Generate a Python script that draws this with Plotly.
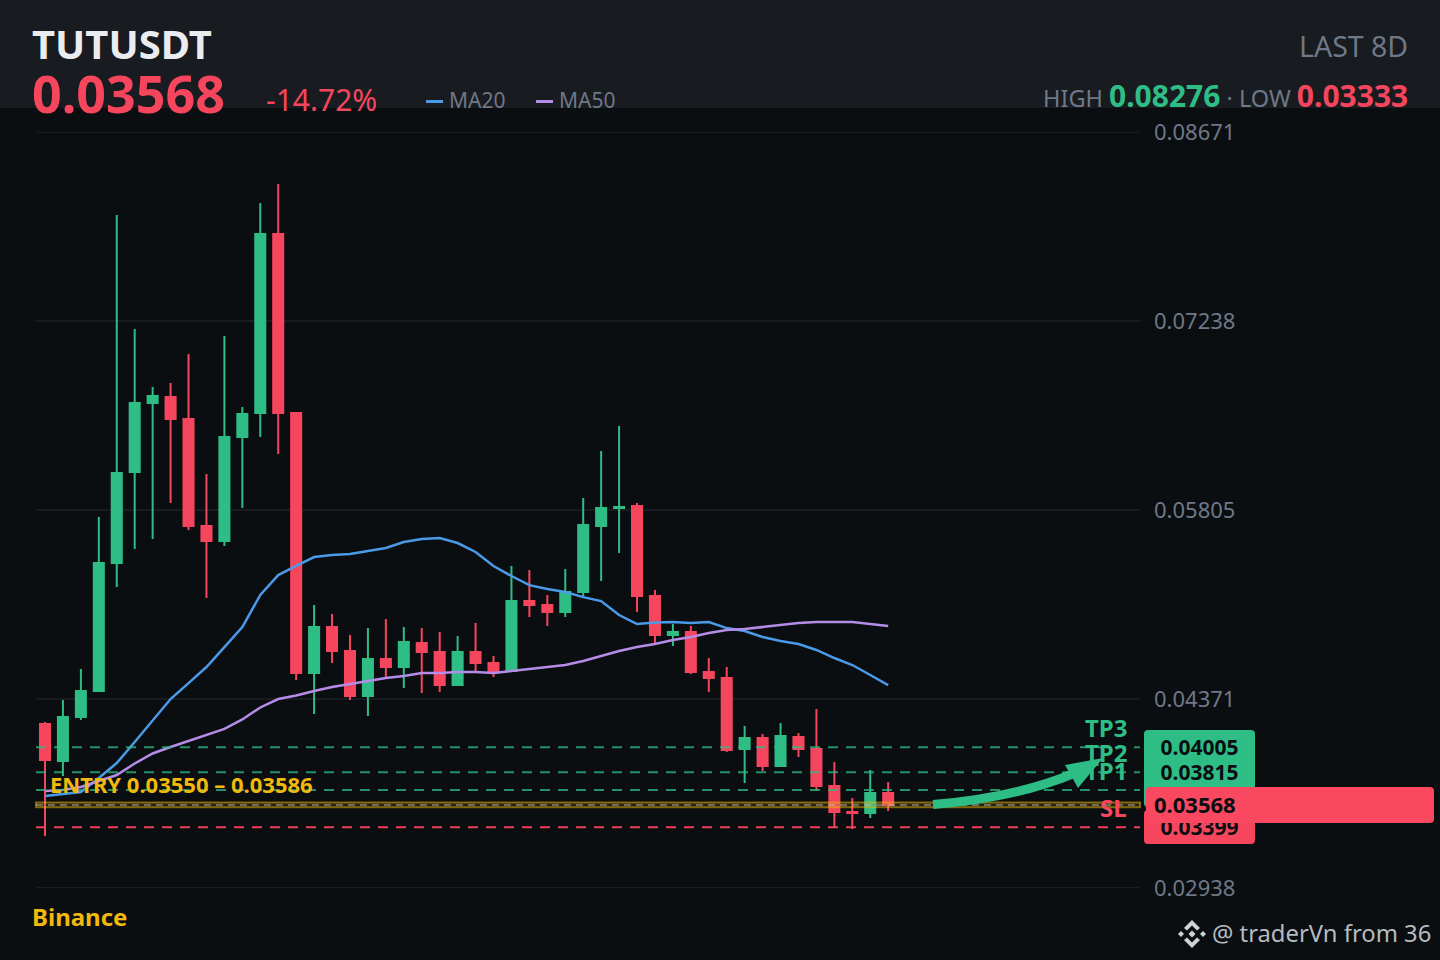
import plotly.graph_objects as go

W, H = 1440, 960

# candles
candle_x = list(range(48))
opens = [0.04181, 0.03901, 0.04235, 0.04432, 0.05402, 0.06092, 0.06616, 0.06661, 0.06494, 0.05683, 0.05569, 0.06358,
         0.06540, 0.07897, 0.06540, 0.04568, 0.04917, 0.04735, 0.04394, 0.04674, 0.04614, 0.04796, 0.04727, 0.04477,
         0.04727, 0.04644, 0.04583, 0.05114, 0.05084, 0.05031, 0.05182, 0.05683, 0.05819, 0.05835, 0.05152, 0.04856,
         0.04879, 0.04576, 0.04530, 0.03992, 0.04075, 0.03863, 0.04083, 0.03992, 0.03711, 0.03514, 0.03507, 0.03658]
highs = [0.04197, 0.04363, 0.04598, 0.05751, 0.08041, 0.07177, 0.06737, 0.06767, 0.06987, 0.06077, 0.07124, 0.06585,
         0.08132, 0.08276, 0.06540, 0.05084, 0.05016, 0.04856, 0.04909, 0.04978, 0.04917, 0.04909, 0.04879, 0.04849,
         0.04947, 0.04697, 0.05380, 0.05349, 0.05160, 0.05357, 0.05895, 0.06252, 0.06441, 0.05857, 0.05198, 0.04940,
         0.04925, 0.04682, 0.04614, 0.04166, 0.04106, 0.04189, 0.04113, 0.04295, 0.03893, 0.03620, 0.03833, 0.03742]
lows = [0.03332, 0.03787, 0.04212, 0.04424, 0.05220, 0.05508, 0.05584, 0.05857, 0.05653, 0.05137, 0.05531, 0.05819,
        0.06358, 0.06229, 0.04515, 0.04257, 0.04644, 0.04363, 0.04242, 0.04530, 0.04454, 0.04416, 0.04424, 0.04477,
        0.04576, 0.04538, 0.04576, 0.04993, 0.04925, 0.04993, 0.05152, 0.05266, 0.05478, 0.05031, 0.04796, 0.04773,
        0.04561, 0.04424, 0.03969, 0.03734, 0.03825, 0.03855, 0.03931, 0.03673, 0.03393, 0.03385, 0.03469, 0.03522]
closes = [0.03908, 0.04235, 0.04432, 0.05402, 0.06085, 0.06616, 0.06669, 0.06494, 0.05683, 0.05569, 0.06358, 0.06532,
          0.07897, 0.06540, 0.04568, 0.04917, 0.04735, 0.04394, 0.04674, 0.04614, 0.04803, 0.04727, 0.04477, 0.04727,
          0.04644, 0.04576, 0.05114, 0.05084, 0.05031, 0.05182, 0.05690, 0.05819, 0.05827, 0.05152, 0.04856, 0.04879,
          0.04576, 0.04530, 0.03984, 0.04075, 0.03863, 0.04090, 0.03992, 0.03711, 0.03514, 0.03507, 0.03658, 0.03568]
ma20 = [0.03635, 0.03651, 0.03666, 0.03772, 0.03886, 0.04045, 0.04212, 0.04371, 0.04492, 0.04614, 0.04765, 0.04917,
        0.05160, 0.05311, 0.05380, 0.05448, 0.05463, 0.05471, 0.05493, 0.05516, 0.05562, 0.05584, 0.05592, 0.05554,
        0.05486, 0.05380, 0.05304, 0.05235, 0.05205, 0.05182, 0.05144, 0.05114, 0.05008, 0.04940, 0.04951, 0.04955,
        0.04947, 0.04955, 0.04909, 0.04887, 0.04841, 0.04811, 0.04788, 0.04743, 0.04682, 0.04629, 0.04553, 0.04477]
ma50 = [0.03673, 0.03681, 0.03704, 0.03749, 0.03795, 0.03882, 0.03958, 0.04007, 0.04053, 0.04094, 0.04144, 0.04216,
        0.04307, 0.04371, 0.04398, 0.04432, 0.04462, 0.04485, 0.04507, 0.04530, 0.04545, 0.04568, 0.04568, 0.04576,
        0.04576, 0.04568, 0.04583, 0.04598, 0.04614, 0.04629, 0.04659, 0.04697, 0.04735, 0.04765, 0.04788, 0.04818,
        0.04841, 0.04871, 0.04894, 0.04902, 0.04917, 0.04932, 0.04947, 0.04955, 0.04955, 0.04955, 0.04940, 0.04925]

tick_vals = [0.02938, 0.04371, 0.05805, 0.07238, 0.08671]
tick_text = ['0.02938', '0.04371', '0.05805', '0.07238', '0.08671']

tp_levels = [0.04005, 0.03815, 0.03681]
tp_names = ['TP3', 'TP2', 'TP1']
sl_level = 0.03399
last_price = 0.03568
entry_low = 0.03550
entry_high = 0.03586
tag_levels = [0.04005, 0.03815, 0.03399]

GREEN = '#2ebd85'
RED = '#f6465d'
GOLD = '#f0b90b'
GREY = '#6f7887'
DARK = '#0b0e11'
FONT = 'Noto Sans'
CANDLE_STEP = 17.94  # px between candles
TAG_TEXT_NUDGE = 0.0002  # text traces sit a little high, about 3px of price


def px(x, y):
    return f'{x / W:.5f},{1 - y / H:.5f}'


def poly(points):
    return 'M' + ' L'.join(px(x, y) for x, y in points) + ' Z'


def round_rect(x0, y0, x1, y1, r=4):
    return (f'M{px(x0 + r, y0)} L{px(x1 - r, y0)} Q{px(x1, y0)} {px(x1, y0 + r)} '
            f'L{px(x1, y1 - r)} Q{px(x1, y1)} {px(x1 - r, y1)} L{px(x0 + r, y1)} '
            f'Q{px(x0, y1)} {px(x0, y1 - r)} L{px(x0, y0 + r)} Q{px(x0, y0)} {px(x0 + r, y0)} Z')


def paper_shape(path, color, layer='above'):
    return dict(type='path', xref='paper', yref='paper', path=path, fillcolor=color, line_width=0, layer=layer)


def label(x, y, text, size, color, anchor='left', bold=False):
    return dict(x=x / W, y=1 - y / H, xref='paper', yref='paper', text=f'<b>{text}</b>' if bold else text,
                showarrow=False, xanchor=anchor, yanchor='middle', borderpad=0,
                font=dict(family=FONT, size=size, color=color))


def level_line(level, color, dash):
    return dict(type='line', xref='paper', yref='y', x0=36 / W, x1=1140 / W, y0=level, y1=level,
                line=dict(color=color, width=2, dash=dash), layer='above')


fig = go.Figure()
fig.add_trace(go.Candlestick(
    x=candle_x, open=opens, high=highs, low=lows, close=closes,
    increasing=dict(line=dict(color=GREEN, width=2), fillcolor=GREEN),
    decreasing=dict(line=dict(color=RED, width=2), fillcolor=RED),
    whiskerwidth=0, hoverinfo='skip', showlegend=False,
))
fig.add_trace(go.Scatter(x=candle_x, y=ma20, mode='lines', line=dict(color='#4a9ae8', width=2.5), showlegend=False, hoverinfo='skip'))
fig.add_trace(go.Scatter(x=candle_x, y=ma50, mode='lines', line=dict(color='#b58ce8', width=2.5), showlegend=False, hoverinfo='skip'))
# tag labels go on a trace so the last price tag can sit over them
fig.add_trace(go.Scatter(
    x=[(1199.5 - 45) / CANDLE_STEP] * len(tag_levels), y=[v - TAG_TEXT_NUDGE for v in tag_levels], mode='text',
    text=[f'<b>{v:.5f}</b>' for v in tag_levels],
    textposition='middle center', textfont=dict(family=FONT, size=21, color=DARK),
    cliponaxis=False, showlegend=False, hoverinfo='skip',
))

shapes = [
    paper_shape(poly([(0, 0), (W, 0), (W, 108), (0, 108)]), '#181b20', 'below'),
]
# x axis runs on under the tags, so the grid is drawn by hand up to 1140px
for tick in tick_vals:
    shapes.append(dict(type='line', xref='paper', yref='y', x0=36 / W, x1=1140 / W, y0=tick, y1=tick,
                       line=dict(color='#181b20', width=2), layer='below'))
shapes += [
    paper_shape(round_rect(1144, 730, 1255, 764), GREEN, 'below'),
    paper_shape(round_rect(1144, 755, 1255, 789), GREEN, 'below'),
    paper_shape(round_rect(1144, 773, 1255, 807), GREEN, 'below'),
    paper_shape(round_rect(1144, 810, 1255, 844), RED, 'below'),
    dict(type='rect', xref='paper', yref='y', x0=36 / W, x1=1140 / W, y0=entry_low, y1=entry_high,
         fillcolor='rgba(240,185,11,0.12)', line=dict(color='rgba(240,185,11,0.5)', width=2), layer='above'),
    level_line(last_price, 'rgba(200,200,200,0.45)', '7px,5px'),
]
for level in tp_levels:
    shapes.append(level_line(level, 'rgba(46,189,133,0.75)', '10px,8px'))
shapes += [
    level_line(sl_level, 'rgba(246,70,93,0.95)', '10px,8px'),
    paper_shape(round_rect(1146, 787, 1434, 823), '#f94860'),
    # legend keys
    paper_shape(poly([(426, 100), (443, 100), (443, 103), (426, 103)]), '#4a9ae8'),
    paper_shape(poly([(536, 100), (553, 100), (553, 103), (536, 103)]), '#b58ce8'),
    # arrow to the targets
    dict(type='path', xref='paper', yref='paper', layer='above',
         path=f'M{px(933, 804.5)} Q{px(1015, 798)} {px(1075, 773)}',
         line=dict(color=GREEN, width=9)),
    paper_shape(poly([(1065, 765), (1103, 758), (1078, 788)]), GREEN),
    # exchange logo
    paper_shape(poly([(1192, 930.5), (1195.5, 934), (1192, 937.5), (1188.5, 934)]), '#cfd2d6'),
    paper_shape(poly([(1181, 931), (1184, 934), (1181, 937), (1178, 934)]), '#cfd2d6'),
    paper_shape(poly([(1203, 931), (1206, 934), (1203, 937), (1200, 934)]), '#cfd2d6'),
    paper_shape(poly([(1192, 920), (1200, 928), (1197, 930.5), (1192, 925.5), (1187, 930.5), (1184, 928)]), '#cfd2d6'),
    paper_shape(poly([(1192, 948), (1200, 940), (1197, 937.5), (1192, 942.5), (1187, 937.5), (1184, 940)]), '#cfd2d6'),
]

annotations = [
    label(31, 44, 'TUTUSDT', 40, '#eaecef', bold=True),
    label(31, 92, '0.03568', 52, RED, bold=True),
    label(265, 100, '-14.72%', 30, RED),
    label(448, 100, 'MA20', 21, GREY),
    label(558, 100, 'MA50', 21, GREY),
    label(1409, 46, 'LAST 8D', 28.5, GREY, 'right'),
    label(1409, 95, f'HIGH <span style="font-size:30px;color:{GREEN}"><b>0.08276</b></span> · LOW '
                    f'<span style="font-size:30px;color:{RED}"><b>0.03333</b></span>', 23.5, GREY, 'right'),
    label(49, 784, 'ENTRY 0.03550 – 0.03586', 22, GOLD, bold=True),
    label(31, 916, 'Binance', 24, GOLD, bold=True),
    label(1128, 807, 'SL', 24, RED, 'right', True),
    label(1128, 727, tp_names[0], 24, GREEN, 'right', True),
    label(1128, 752, tp_names[1], 24, GREEN, 'right', True),
    label(1128, 770, tp_names[2], 24, GREEN, 'right', True),
    label(1153, 804, '0.03568', 22, DARK, bold=True),
    label(1211, 933, '@ traderVn from 36', 23.8, '#b7bbc0'),
]

fig.update_layout(
    width=W, height=H, margin=dict(l=0, r=0, t=0, b=0), autosize=False,
    paper_bgcolor=DARK, plot_bgcolor=DARK, showlegend=False, boxgap=0.2,
    shapes=shapes, annotations=annotations,
    xaxis=dict(domain=[36 / W, 1270 / W], range=[(36 - 45) / CANDLE_STEP, (1270 - 45) / CANDLE_STEP],
               visible=False, automargin=False, rangeslider=dict(visible=False)),
    yaxis=dict(domain=[0.075, 0.8625], range=[0.02938, 0.08671], side='right', anchor='free', position=1140 / W,
               tickmode='array', tickvals=tick_vals, ticktext=tick_text, showgrid=False,
               zeroline=False, showline=False, ticks='', ticklabelstandoff=13, automargin=False,
               tickfont=dict(family=FONT, size=22, color=GREY)),
)

fig.write_html('out.html', config={'displayModeBar': False},
               post_script="document.body.style.margin='0';document.body.style.background='#0b0e11';")
